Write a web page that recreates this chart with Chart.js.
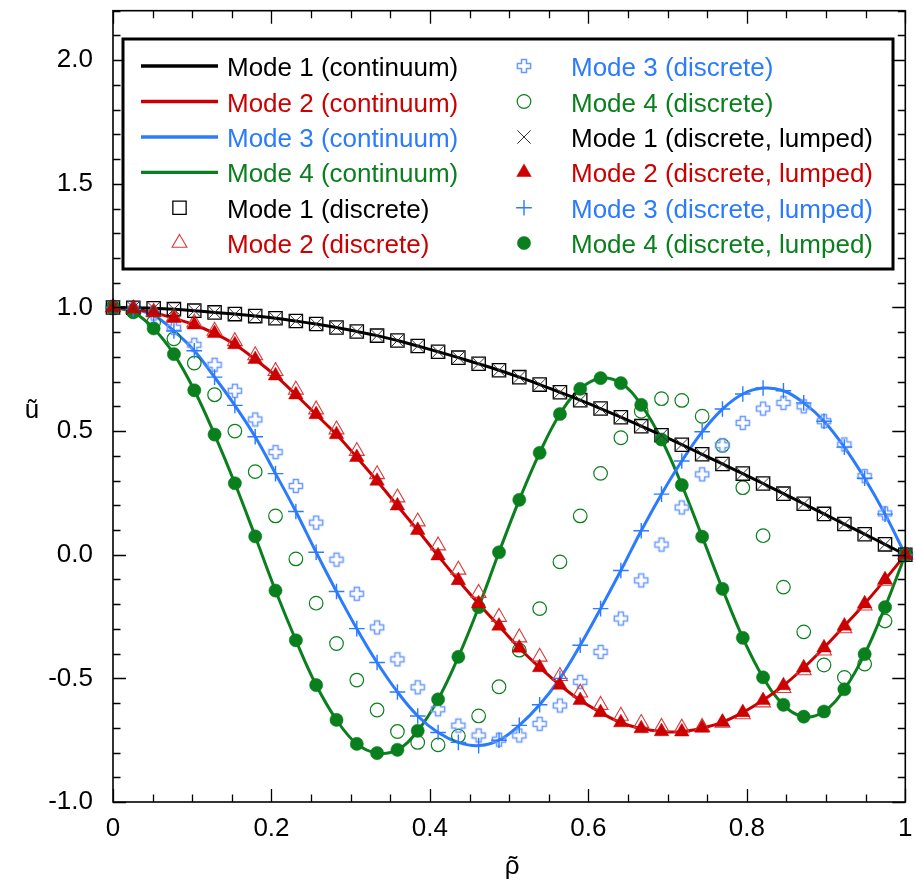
<!DOCTYPE html>
<html>
<head>
<meta charset="utf-8">
<script src="https://cdn.jsdelivr.net/npm/chart.js@4.4.0/dist/chart.umd.min.js"></script>
<style>
  body { margin: 0; background: #fff; }
  #wrap { width: 916px; height: 886px; }
</style>
</head>
<body>
<div id="wrap"><canvas id="myChart" width="916" height="886"></canvas></div>
<script>
// Node positions (rho tilde)
const rho = [0, 0.0256, 0.0513, 0.0769, 0.1026, 0.1282, 0.1538, 0.1795, 0.2051, 0.2308,
  0.2564, 0.2821, 0.3077, 0.3333, 0.3590, 0.3846, 0.4103, 0.4359, 0.4615, 0.4872,
  0.5128, 0.5385, 0.5641, 0.5897, 0.6154, 0.6410, 0.6667, 0.6923, 0.7179, 0.7436,
  0.7692, 0.7949, 0.8205, 0.8462, 0.8718, 0.8974, 0.9231, 0.9487, 0.9744, 1];

// Continuum mode shapes
const mode1Continuum = [1.000, 0.999, 0.997, 0.993, 0.987, 0.980, 0.973, 0.965, 0.956, 0.945,
  0.933, 0.919, 0.903, 0.886, 0.866, 0.844, 0.821, 0.797, 0.772, 0.746,
  0.718, 0.688, 0.657, 0.625, 0.591, 0.556, 0.520, 0.483, 0.445, 0.406,
  0.367, 0.328, 0.288, 0.247, 0.206, 0.165, 0.124, 0.083, 0.042, 0];
const mode2Continuum = [1.000, 0.994, 0.979, 0.956, 0.930, 0.895, 0.850, 0.790, 0.724, 0.647,
  0.567, 0.486, 0.394, 0.298, 0.198, 0.099, -0.004, -0.104, -0.198, -0.288,
  -0.377, -0.456, -0.527, -0.589, -0.638, -0.679, -0.703, -0.715, -0.716, -0.701,
  -0.677, -0.638, -0.589, -0.529, -0.457, -0.376, -0.288, -0.198, -0.101, 0];
const mode3Continuum = [1.000, 0.992, 0.968, 0.905, 0.825, 0.718, 0.604, 0.477, 0.328, 0.175,
  0.010, -0.149, -0.299, -0.436, -0.555, -0.652, -0.719, -0.759, -0.772, -0.750,
  -0.690, -0.607, -0.500, -0.366, -0.218, -0.064, 0.097, 0.245, 0.379, 0.497,
  0.589, 0.650, 0.674, 0.663, 0.614, 0.540, 0.435, 0.309, 0.164, 0];
const mode4Continuum = [1.000, 0.980, 0.915, 0.811, 0.665, 0.486, 0.289, 0.074, -0.145, -0.346,
  -0.527, -0.668, -0.765, -0.802, -0.789, -0.712, -0.585, -0.413, -0.212, 0.010,
  0.222, 0.412, 0.569, 0.671, 0.714, 0.694, 0.606, 0.466, 0.282, 0.073,
  -0.138, -0.336, -0.496, -0.607, -0.655, -0.634, -0.544, -0.402, -0.212, 0];

// Discrete model
const mode1Discrete = [1.000, 0.999, 0.997, 0.993, 0.987, 0.980, 0.973, 0.965, 0.956, 0.945,
  0.933, 0.919, 0.903, 0.886, 0.866, 0.844, 0.821, 0.797, 0.772, 0.746,
  0.718, 0.688, 0.657, 0.625, 0.591, 0.556, 0.520, 0.483, 0.445, 0.406,
  0.367, 0.328, 0.288, 0.247, 0.206, 0.165, 0.124, 0.083, 0.042, 0];
const mode2Discrete = [1.000, 0.995, 0.982, 0.962, 0.938, 0.905, 0.863, 0.806, 0.742, 0.667,
  0.587, 0.506, 0.419, 0.325, 0.231, 0.134, 0.037, -0.061, -0.155, -0.252,
  -0.335, -0.413, -0.491, -0.558, -0.608, -0.652, -0.681, -0.697, -0.700, -0.697,
  -0.680, -0.646, -0.598, -0.540, -0.468, -0.388, -0.298, -0.206, -0.106, 0];
const mode3Discrete = [1.000, 0.995, 0.975, 0.918, 0.849, 0.768, 0.663, 0.547, 0.415, 0.278,
  0.130, -0.020, -0.158, -0.294, -0.423, -0.536, -0.625, -0.691, -0.731, -0.748,
  -0.731, -0.684, -0.610, -0.514, -0.393, -0.258, -0.104, 0.041, 0.191, 0.325,
  0.443, 0.533, 0.591, 0.614, 0.600, 0.540, 0.446, 0.318, 0.167, 0];
const mode4Discrete = [1.000, 0.985, 0.940, 0.873, 0.775, 0.647, 0.500, 0.336, 0.157, -0.017,
  -0.196, -0.359, -0.507, -0.628, -0.715, -0.759, -0.769, -0.733, -0.652, -0.534,
  -0.386, -0.218, -0.029, 0.157, 0.329, 0.473, 0.580, 0.631, 0.624, 0.560,
  0.442, 0.271, 0.077, -0.131, -0.312, -0.446, -0.496, -0.442, -0.268, 0];

// Discrete model, lumped
const mode1Lumped = [1.000, 0.999, 0.997, 0.993, 0.987, 0.980, 0.973, 0.965, 0.956, 0.945,
  0.933, 0.919, 0.903, 0.886, 0.866, 0.844, 0.821, 0.797, 0.772, 0.746,
  0.718, 0.688, 0.657, 0.625, 0.591, 0.556, 0.520, 0.483, 0.445, 0.406,
  0.367, 0.328, 0.288, 0.247, 0.206, 0.165, 0.124, 0.083, 0.042, 0];
const mode2Lumped = [1.000, 0.994, 0.979, 0.956, 0.930, 0.895, 0.850, 0.790, 0.724, 0.647,
  0.567, 0.486, 0.394, 0.298, 0.198, 0.099, -0.004, -0.104, -0.198, -0.288,
  -0.377, -0.456, -0.527, -0.589, -0.638, -0.679, -0.703, -0.715, -0.716, -0.701,
  -0.677, -0.638, -0.589, -0.529, -0.457, -0.376, -0.288, -0.198, -0.101, 0];
const mode3Lumped = [1.000, 0.992, 0.968, 0.905, 0.825, 0.718, 0.604, 0.477, 0.328, 0.175,
  0.010, -0.149, -0.299, -0.436, -0.555, -0.652, -0.719, -0.759, -0.772, -0.750,
  -0.690, -0.607, -0.500, -0.366, -0.218, -0.064, 0.097, 0.245, 0.379, 0.497,
  0.589, 0.650, 0.674, 0.663, 0.614, 0.540, 0.435, 0.309, 0.164, 0];
const mode4Lumped = [1.000, 0.980, 0.915, 0.811, 0.665, 0.486, 0.289, 0.074, -0.145, -0.346,
  -0.527, -0.668, -0.765, -0.802, -0.789, -0.712, -0.585, -0.413, -0.212, 0.010,
  0.222, 0.412, 0.569, 0.671, 0.714, 0.694, 0.606, 0.466, 0.282, 0.073,
  -0.138, -0.336, -0.496, -0.607, -0.655, -0.634, -0.544, -0.402, -0.212, 0];

// Axis ticks
const xTicks = [0, 0.2, 0.4, 0.6, 0.8, 1];
const yTicks = [-1, -0.5, 0, 0.5, 1, 1.5, 2];

const BLACK = '#000000';
const RED = '#cc0000';
const BLUE = '#2b7bff';
const GREEN = '#0a7f1d';
const FONT = "'Liberation Sans', Arial, sans-serif";

// open plus marker (no built-in style for it)
function makeOpenPlus() {
  const c = document.createElement('canvas');
  c.width = 18; c.height = 18;
  const g = c.getContext('2d');
  const m = 9, a = 2.5, l = 6.6;
  g.strokeStyle = '#6a99ff';
  g.lineWidth = 1.5;
  g.beginPath();
  g.moveTo(m - a, m - l); g.lineTo(m + a, m - l); g.lineTo(m + a, m - a);
  g.lineTo(m + l, m - a); g.lineTo(m + l, m + a); g.lineTo(m + a, m + a);
  g.lineTo(m + a, m + l); g.lineTo(m - a, m + l); g.lineTo(m - a, m + a);
  g.lineTo(m - l, m + a); g.lineTo(m - l, m - a); g.lineTo(m - a, m - a);
  g.closePath();
  g.stroke();
  return c;
}
const openPlus = makeOpenPlus();

const pts = vals => vals.map((v, i) => ({ x: rho[i], y: v }));

function lineSet(label, vals, color) {
  return { label, data: pts(vals), borderColor: color, backgroundColor: color,
    borderWidth: 3, pointRadius: 0, pointHitRadius: 0, tension: 0.4, showLine: true,
    fill: false, clip: false, order: 2, textColor: color };
}
function markSet(label, vals, style, radius, stroke, fill, bw, textColor, order) {
  return { label, data: pts(vals), showLine: false, pointStyle: style, pointRadius: radius,
    pointBorderColor: stroke, pointBackgroundColor: fill, pointBorderWidth: bw,
    borderColor: stroke, backgroundColor: fill, clip: false, order, textColor };
}

const datasets = [
  lineSet('Mode 1 (continuum)', mode1Continuum, BLACK),
  lineSet('Mode 2 (continuum)', mode2Continuum, RED),
  lineSet('Mode 3 (continuum)', mode3Continuum, BLUE),
  lineSet('Mode 4 (continuum)', mode4Continuum, GREEN),
  markSet('Mode 1 (discrete)', mode1Discrete, 'rect', 9.4, BLACK, 'rgba(0,0,0,0)', 1.3, BLACK, 1),
  markSet('Mode 2 (discrete)', mode2Discrete, 'triangle', 8.6, '#d93a3a', 'rgba(0,0,0,0)', 1.1, RED, 1),
  markSet('Mode 3 (discrete)', mode3Discrete, openPlus, 7, '#6a99ff', 'rgba(0,0,0,0)', 1, BLUE, 1),
  markSet('Mode 4 (discrete)', mode4Discrete, 'circle', 6.8, GREEN, 'rgba(0,0,0,0)', 1.2, GREEN, 1),
  markSet('Mode 1 (discrete, lumped)', mode1Lumped, 'crossRot', 9.4, '#333333', '#333333', 1, BLACK, 0),
  markSet('Mode 2 (discrete, lumped)', mode2Lumped, 'triangle', 8.4, RED, RED, 0.5, RED, 0),
  markSet('Mode 3 (discrete, lumped)', mode3Lumped, 'cross', 7.8, BLUE, BLUE, 1.4, BLUE, 0),
  markSet('Mode 4 (discrete, lumped)', mode4Lumped, 'circle', 6.6, GREEN, GREEN, 0.5, GREEN, 0)
];

function drawMarker(ctx, ds, x, y) {
  const r = ds.pointRadius;
  const st = ds.pointStyle;
  ctx.save();
  ctx.strokeStyle = ds.pointBorderColor;
  ctx.fillStyle = ds.pointBackgroundColor;
  ctx.lineWidth = ds.pointBorderWidth;
  if (st instanceof HTMLCanvasElement) {
    ctx.drawImage(st, x - st.width / 2, y - st.height / 2);
    ctx.restore();
    return;
  }
  ctx.beginPath();
  if (st === 'rect') {
    const s = Math.SQRT1_2 * r;
    ctx.rect(x - s, y - s, 2 * s, 2 * s);
    ctx.fill(); ctx.stroke();
  } else if (st === 'triangle') {
    ctx.moveTo(x, y - r);
    ctx.lineTo(x + 0.866 * r, y + 0.5 * r);
    ctx.lineTo(x - 0.866 * r, y + 0.5 * r);
    ctx.closePath();
    ctx.fill(); ctx.stroke();
  } else if (st === 'circle') {
    ctx.arc(x, y, r, 0, Math.PI * 2);
    ctx.fill(); ctx.stroke();
  } else if (st === 'crossRot') {
    const s = Math.SQRT1_2 * r;
    ctx.moveTo(x - s, y - s); ctx.lineTo(x + s, y + s);
    ctx.moveTo(x - s, y + s); ctx.lineTo(x + s, y - s);
    ctx.stroke();
  } else if (st === 'cross') {
    ctx.moveTo(x - r, y); ctx.lineTo(x + r, y);
    ctx.moveTo(x, y - r); ctx.lineTo(x, y + r);
    ctx.stroke();
  }
  ctx.restore();
}

// frame, inward ticks on all sides, axis titles and the two-column legend
const framePlugin = {
  id: 'framePlugin',
  afterDraw(chart) {
    const { ctx, chartArea: a, scales: { x, y } } = chart;
    ctx.save();
    ctx.strokeStyle = '#000';
    ctx.lineWidth = 1.3;
    ctx.beginPath();
    for (let k = 0; k <= 20; k++) {
      const v = k * 0.05;
      const p = Math.round(x.getPixelForValue(v)) + 0.5;
      const len = k % 4 === 0 ? 13 : 7.5;
      ctx.moveTo(p, a.bottom); ctx.lineTo(p, a.bottom - len);
      ctx.moveTo(p, a.top); ctx.lineTo(p, a.top + len);
    }
    for (let k = 0; k <= 32; k++) {
      const v = -1 + k * 0.1;
      const p = Math.round(y.getPixelForValue(v)) + 0.5;
      const len = k % 5 === 0 ? 13 : 7.5;
      ctx.moveTo(a.left, p); ctx.lineTo(a.left + len, p);
      ctx.moveTo(a.right, p); ctx.lineTo(a.right - len, p);
    }
    ctx.stroke();
    ctx.lineWidth = 1.6;
    ctx.strokeRect(a.left, a.top, a.right - a.left, a.bottom - a.top);

    // axis titles (tilde drawn as a spacing accent above rho)
    ctx.fillStyle = '#000';
    ctx.font = '26px ' + FONT;
    ctx.textAlign = 'center';
    ctx.textBaseline = 'alphabetic';
    ctx.fillText('\u0169', 32, (a.top + a.bottom) / 2 + 12);
    const cx = (a.left + a.right) / 2 + 3;
    ctx.fillText('\u03C1', cx, 874);
    ctx.fillText('\u02DC', cx + 1, 874);

    // legend box
    const bx = 123, by = 39, bw = 770, bh = 230;
    ctx.fillStyle = '#fff';
    ctx.fillRect(bx, by, bw, bh);
    ctx.lineWidth = 3;
    ctx.strokeStyle = '#000';
    ctx.strokeRect(bx, by, bw, bh);
    const rowY = [66, 101.5, 137, 172.3, 207.7, 243];
    const cols = [{ sym: 179.5, half: 38.5, text: 227 }, { sym: 524, half: 38.5, text: 571 }];
    ctx.textAlign = 'left';
    chart.data.datasets.forEach((ds, i) => {
      const col = cols[Math.floor(i / 6)];
      const yy = rowY[i % 6];
      if (ds.showLine) {
        ctx.save();
        ctx.strokeStyle = ds.borderColor;
        ctx.lineWidth = 3.3;
        ctx.beginPath();
        ctx.moveTo(col.sym - col.half, yy);
        ctx.lineTo(col.sym + col.half, yy);
        ctx.stroke();
        ctx.restore();
      } else {
        drawMarker(ctx, ds, col.sym, yy);
      }
      ctx.fillStyle = ds.textColor;
      ctx.fillText(ds.label, col.text, yy + 10);
    });
    ctx.restore();
  }
};

Chart.defaults.font.family = FONT;
Chart.defaults.font.size = 26;
Chart.defaults.color = '#000';

const ctx = document.getElementById('myChart').getContext('2d');
const myChart = new Chart(ctx, {
  type: 'scatter',
  data: { datasets },
  options: {
    responsive: false,
    animation: false,
    layout: { padding: { left: 0, top: 7, right: 8, bottom: 0 } },
    scales: {
      x: {
        type: 'linear', min: 0, max: 1,
        grid: { display: false, drawTicks: false },
        border: { display: false },
        afterBuildTicks: s => { s.ticks = xTicks.map(v => ({ value: v })); },
        afterFit: s => { s.height = 84; s.paddingLeft = 0; s.paddingRight = 0; },
        ticks: { padding: 11, maxRotation: 0, callback: v => String(v) }
      },
      y: {
        type: 'linear', min: -1, max: 2.2,
        grid: { display: false, drawTicks: false },
        border: { display: false },
        afterBuildTicks: s => { s.ticks = yTicks.map(v => ({ value: v })); },
        afterFit: s => { s.width = 113; s.paddingTop = 0; s.paddingBottom = 0; },
        ticks: { padding: 20, callback: v => v.toFixed(1) }
      }
    },
    plugins: {
      legend: { display: false },
      tooltip: { enabled: false }
    }
  },
  plugins: [framePlugin]
});
</script>
</body>
</html>
